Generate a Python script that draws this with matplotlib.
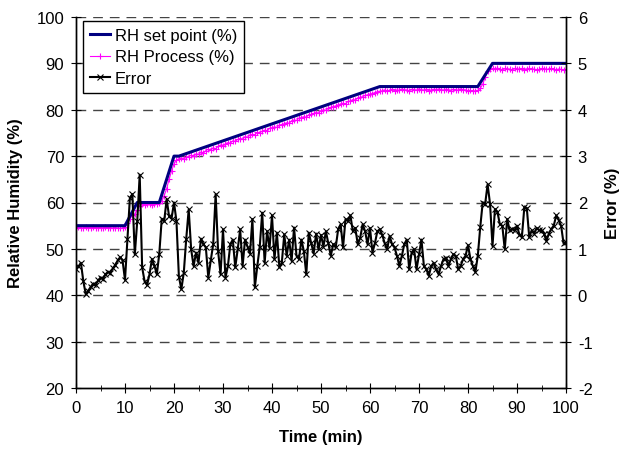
import numpy as np
import matplotlib
matplotlib.use("Agg")
import matplotlib.pyplot as plt
from matplotlib.ticker import MultipleLocator

plt.rcParams['font.family'] = ['Liberation Sans', 'DejaVu Sans']
plt.rcParams['axes.unicode_minus'] = False

# sample times (min), one reading every half minute
time = np.arange(0, 100.5, 0.5)

# set point breakpoints
sp_time = [0, 10, 12.5, 17, 20, 21, 62, 82, 85, 100]
sp_rh = [55, 55, 60, 60, 70, 70, 85, 85, 90, 90]

# RH process (%), rows of 5 minutes
rh_process = [
    54.6, 54.7, 54.6, 54.5, 54.7, 54.6, 54.6, 54.7, 54.5, 54.6,
    54.6, 54.5, 54.7, 54.6, 54.6, 54.5, 54.6, 54.5, 54.4, 54.5,
    54.8, 55.5, 56.5, 57.3, 57.5, 58.4, 59.3, 59.6, 59.5, 59.7,
    59.6, 59.5, 59.7, 59.6, 59.8, 60.3, 61.5, 63.0, 65.0, 66.8,
    68.3, 69.2, 69.4, 69.6, 69.3, 69.8, 69.9, 70.2, 70.0, 70.5,
    70.4, 70.9, 70.7, 71.2, 71.5, 71.3, 71.8, 71.6, 72.1, 72.4,
    72.2, 72.7, 72.9, 72.8, 73.3, 73.2, 73.6, 73.8, 73.7, 74.2,
    74.1, 74.5, 74.7, 74.6, 75.1, 75.0, 75.4, 75.6, 75.5, 76.0,
    76.1, 76.3, 76.2, 76.7, 76.8, 77.0, 77.2, 77.1, 77.6, 77.8,
    77.7, 78.2, 78.3, 78.5, 78.4, 78.9, 79.0, 79.2, 79.4, 79.3,
    79.8, 80.0, 79.9, 80.4, 80.5, 80.7, 80.8, 81.1, 81.2, 81.4,
    81.3, 81.8, 81.9, 82.2, 82.1, 82.5, 82.7, 82.8, 83.1, 83.2,
    83.4, 83.5, 83.7, 83.9, 84.0, 84.1, 84.3, 84.0, 84.2, 84.4,
    84.1, 84.3, 84.2, 84.5, 84.2, 84.3, 84.1, 84.4, 84.3, 84.2,
    84.5, 84.3, 84.2, 84.4, 84.1, 84.3, 84.4, 84.2, 84.5, 84.3,
    84.2, 84.4, 84.3, 84.1, 84.4, 84.2, 84.3, 84.5, 84.2, 84.3,
    84.1, 84.2, 84.0, 84.1, 84.2, 84.6, 85.5, 87.0, 88.3, 88.8,
    88.9, 88.7, 89.0, 88.8, 88.6, 88.9, 88.7, 88.8, 88.6, 88.9,
    88.8, 88.7, 88.9, 88.6, 88.8, 88.9, 88.7, 88.8, 88.6, 88.7,
    88.9, 88.8, 88.7, 88.8, 88.9, 88.7, 88.6, 88.8, 88.7, 88.5,
    88.7,
]

# error (%), rows of 5 minutes
error = [
    0.56, 0.62, 0.70, 0.30, 0.02, 0.10, 0.18, 0.25, 0.22, 0.32,
    0.38, 0.35, 0.45, 0.50, 0.48, 0.58, 0.65, 0.75, 0.82, 0.75,
    0.33, 1.22, 2.10, 2.18, 0.88, 1.60, 2.60, 0.60, 0.30, 0.22,
    0.45, 0.78, 0.64, 0.45, 0.90, 1.65, 1.60, 2.07, 1.70, 1.65,
    2.00, 1.60, 0.40, 0.13, 0.49, 1.22, 1.85, 0.99, 0.63, 0.92,
    0.70, 1.22, 1.10, 1.03, 0.38, 0.75, 1.10, 2.18, 0.95, 0.45,
    1.42, 0.38, 0.63, 1.10, 1.20, 0.60, 0.99, 1.42, 0.63, 1.20,
    1.05, 0.90, 1.64, 0.17, 0.63, 1.05, 1.78, 0.70, 1.38, 1.02,
    1.72, 0.78, 1.35, 0.60, 0.70, 1.31, 0.85, 1.20, 0.74, 1.46,
    0.85, 0.78, 1.20, 0.95, 0.45, 1.35, 1.13, 0.90, 1.33, 0.99,
    1.30, 1.05, 1.38, 1.12, 0.85, 1.10, 1.03, 1.42, 1.53, 1.03,
    1.64, 1.60, 1.72, 1.38, 1.45, 1.10, 1.24, 1.53, 1.38, 1.10,
    1.45, 0.92, 1.12, 1.38, 1.42, 1.30, 1.12, 0.99, 1.28, 1.10,
    1.03, 0.85, 0.63, 0.85, 1.10, 1.20, 0.56, 0.92, 0.99, 0.56,
    0.88, 1.20, 0.63, 0.56, 0.42, 0.63, 0.70, 0.56, 0.45, 0.63,
    0.78, 0.81, 0.63, 0.78, 0.88, 0.85, 0.56, 0.63, 0.78, 0.85,
    1.08, 0.78, 0.63, 0.50, 0.85, 1.47, 2.00, 1.97, 2.39, 1.97,
    1.06, 1.86, 1.80, 1.53, 1.50, 0.99, 1.64, 1.40, 1.43, 1.40,
    1.50, 1.30, 1.26, 1.90, 1.88, 1.25, 1.40, 1.33, 1.45, 1.40,
    1.40, 1.33, 1.17, 1.33, 1.43, 1.50, 1.72, 1.62, 1.50, 1.12,
    1.15,
]

fig = plt.figure(figsize=(6.26, 4.52), dpi=100)
ax = fig.add_axes([76 / 626, 1 - 389 / 452, 490 / 626, 371 / 452])
ax2 = ax.twinx()

# dashed grid on the left scale
for yv in range(30, 101, 10):
    ax.axhline(yv, color='#444444', lw=1, ls=(0, (7, 5)), zorder=0)

l1, = ax.plot(sp_time, sp_rh, color='#000080', lw=2.2, label='RH set point (%)', zorder=3)
l2, = ax.plot(time, rh_process, color='#ff00ff', lw=0.8, marker='+', ms=5, mew=0.8,
              label='RH Process (%)', zorder=2)
l3, = ax2.plot(time, error, color='black', lw=1.5, marker='x', ms=4, mew=0.8, label='Error')

ax.set_xlim(0, 100)
ax.set_ylim(20, 100)
ax2.set_ylim(-2, 6)
ax.xaxis.set_major_locator(MultipleLocator(10))
ax.xaxis.set_minor_locator(MultipleLocator(5))
ax.yaxis.set_major_locator(MultipleLocator(10))
ax2.yaxis.set_major_locator(MultipleLocator(1))

for a in (ax, ax2):
    a.spines['top'].set_visible(False)
    for s in a.spines.values():
        s.set_linewidth(1)
ax.tick_params(axis='both', which='major', direction='inout', length=7, labelsize=12, pad=5)
ax.tick_params(axis='x', which='minor', direction='inout', length=5)
ax2.tick_params(axis='y', direction='inout', length=7, labelsize=12, pad=5)

ax.set_xlabel('Time (min)', fontsize=12, fontweight='bold', labelpad=10)
ax.set_ylabel('Relative Humidity (%)', fontsize=12, fontweight='bold', labelpad=10)
ax2.set_ylabel('Error (%)', fontsize=12, fontweight='bold', labelpad=9)

leg = ax2.legend(handles=[l1, l2, l3], loc='upper left', bbox_to_anchor=(0.014, 0.989),
                 fontsize=12, frameon=True, fancybox=False, framealpha=1,
                 edgecolor='black', handlelength=1.2, handletextpad=0.3,
                 labelspacing=0.4, borderpad=0.4, borderaxespad=0)
leg.get_frame().set_linewidth(1)

fig.savefig('out.png', dpi=100)
